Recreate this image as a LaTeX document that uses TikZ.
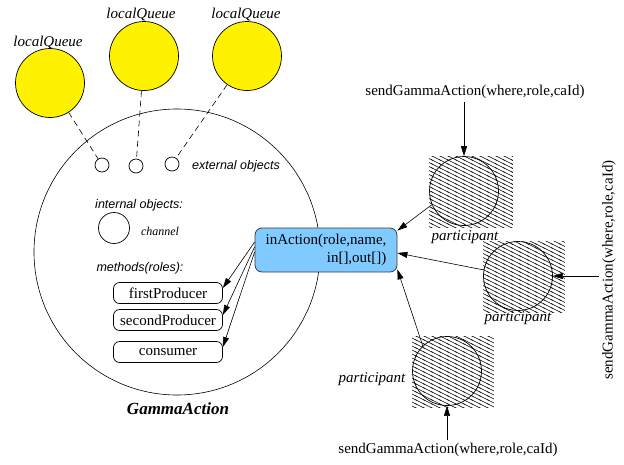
\documentclass[tikz,border=0pt]{standalone}
\usepackage{fontspec}
\setmainfont{Liberation Serif}
\setsansfont{Liberation Sans}
\usepackage{tikz}
\usetikzlibrary{arrows, arrows.meta, patterns.meta, backgrounds}

\definecolor{actblue}{RGB}{128,202,255}
\definecolor{actline}{RGB}{60,60,60}

\tikzdeclarepattern{
  name=hatch,
  type=uncolored,
  bounding box={(-1pt,-1pt) and (9pt,5pt)},
  tile size={(8pt,4pt)},
  code={\draw[line width=0.5pt] (-1pt,4.5pt) -- (9pt,-0.5pt);}
}

\tikzset{
  queue/.style={circle, draw, fill=yellow, minimum size=69pt, inner sep=0pt, line width=0.7pt},
  obj/.style={circle, draw, minimum size=14pt, inner sep=0pt, line width=0.7pt},
  part/.style={circle, draw, minimum size=69pt, inner sep=0pt, line width=0.7pt},
  role/.style={draw, rounded corners=6pt, minimum width=109pt, minimum height=21pt, inner sep=0pt, line width=0.7pt},
  arr/.style={-{Triangle[length=10pt,width=6pt]}, line width=0.6pt},
  serif/.style={font=\fontsize{15}{18}\selectfont},
  iserif/.style={font=\fontsize{15}{18}\selectfont\itshape},
  isans/.style={font=\fontsize{12.5}{15}\selectfont\sffamily\itshape},
}

\begin{document}
\begin{tikzpicture}[x=1pt, y=-1pt]
\useasboundingbox (0,0) rectangle (624,464);
%\draw[step=20,gray,very thin] (0,0) grid (624,464);

% gamma action
\node[circle, draw, minimum size=286pt, inner sep=0pt, line width=0.6pt] (gamma) at (177,252) {};
\node[font=\fontsize{17}{20}\selectfont\bfseries\itshape] (gname) at (178,409) {GammaAction};

% local queues
\node[queue] (q1) at (50,83) {};
\node[queue] (q2) at (144,56) {};
\node[queue] (q3) at (247,56) {};
\node[iserif] (ql1) at (48,43) {localQueue};
\node[iserif] (ql2) at (141,15) {localQueue};
\node[iserif] (ql3) at (246,15) {localQueue};

\node[obj] (e1) at (102,165) {};
\node[obj] (e2) at (136,166) {};
\node[obj] (e3) at (172,164) {};
\node[isans] (ext) at (236,166) {external objects};
\draw[dash pattern=on 6pt off 4pt, line width=0.6pt] (q1) -- (e1);
\draw[dash pattern=on 6pt off 4pt, line width=0.6pt] (q2) -- (e2);
\draw[dash pattern=on 6pt off 4pt, line width=0.6pt] (q3) -- (e3);

% internal objects and roles
\node[isans] (intl) at (139,205) {internal objects:};
\node[circle, draw, minimum size=31pt, inner sep=0pt, line width=0.7pt] (chan) at (114,228) {};
\node[font=\fontsize{12}{14}\selectfont\itshape] (chanl) at (160,231) {channel};
\node[isans] (meth) at (140,268) {methods(roles):};
\node[role, serif] (first) at (168,293) {firstProducer};
\node[role, serif] (second) at (168,320) {secondProducer};
\node[role, serif] (cons) at (168,352) {consumer};

\node[draw=actline, fill=actblue, rounded corners=7pt, line width=0.8pt, minimum width=142pt, minimum height=44pt, inner sep=0pt, serif, align=right] (act) at (326,250) {inAction(role,name,\\in[],out[])};
\draw[arr] ([yshift=8pt]act.west) -- ([yshift=5pt]first.east);
\draw[arr] ([yshift=3pt]act.west) -- ([yshift=5pt]second.east);
\draw[arr] ([yshift=-2pt]act.west) -- ([yshift=5pt]cons.east);

% participants
\node[part] (p1) at (464,191) {};
\node[part] (p2) at (518,276) {};
\node[part] (p3) at (447,371) {};
\begin{pgfonlayer}{background}
\fill[pattern=hatch] (p1.west |- p1.north) rectangle ([xshift=14pt,yshift=-2pt]p1.east |- p1.south);
\fill[pattern=hatch] (p2.west |- p2.north) rectangle ([xshift=12pt,yshift=-2pt]p2.east |- p2.south);
\fill[pattern=hatch] (p3.west |- p3.north) rectangle ([xshift=12pt,yshift=-2pt]p3.east |- p3.south);
\end{pgfonlayer}
\node[iserif] (pl1) at (465,237) {participant};
\node[iserif] (pl2) at (518,318) {participant};
\node[iserif] (pl3) at (372,379) {participant};

\node[serif] (sga1) at (475,92) {sendGammaAction(where,role,caId)};
\node[serif, rotate=90] (sga2) at (609,270) {sendGammaAction(where,role,caId)};
\node[serif] (sga3) at (448,450) {sendGammaAction(where,role,caId)};
\draw[arr] (sga1.south -| p1.north) -- (p1.north);
\draw[arr] (sga2.north |- p2.east) -- (p2.east);
\draw[arr] (sga3.north -| p3.south) -- (p3.south);

\draw[arr] (p1.203) -- ([yshift=-3pt]act.north east);
\draw[arr] (p2.170) -- ([yshift=-3pt]act.east);
\draw[arr] (p3.134) -- ([yshift=3pt]act.south east);
\end{tikzpicture}
\end{document}
